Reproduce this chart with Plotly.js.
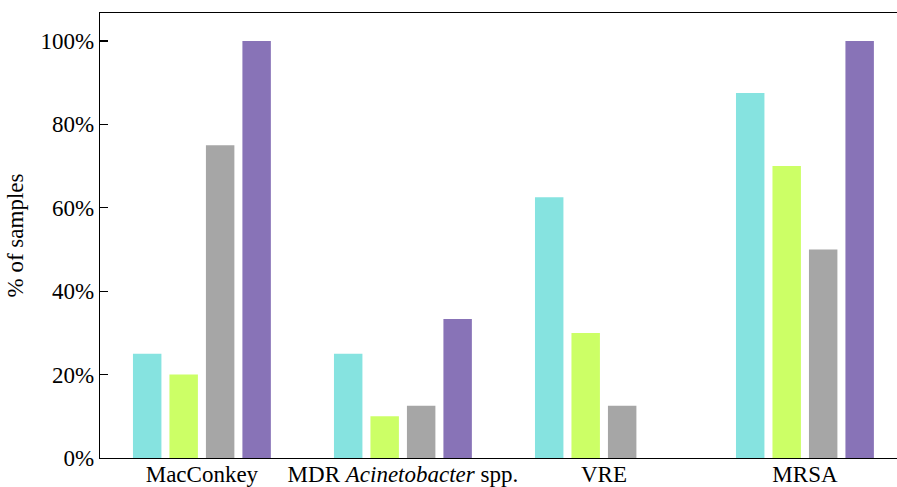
<!DOCTYPE html>
<html>
<head>
<meta charset="utf-8">
<script src="https://cdn.plot.ly/plotly-3.0.1.min.js"></script>
<style>html,body{margin:0;padding:0;background:#fff;}#chart{width:897px;height:487px;}</style>
</head>
<body>
<div id="chart"></div>
<script>
const categories = ["MacConkey", "MDR <i>Acinetobacter</i> spp.", "VRE", "MRSA"];
const seriesA = [25, 25, 62.5, 87.5];
const seriesB = [20, 10, 30, 70];
const seriesC = [75, 12.5, 12.5, 50];
const seriesD = [100, 33.3, 0, 100];
const colors = ["#86E3E0", "#CCFF66", "#A6A6A6", "#8873B7"];
const yTicks = [0, 20, 40, 60, 80, 100];
const yTickLabels = ["0%", "20%", "40%", "60%", "80%", "100%"];

const allSeries = [seriesA, seriesB, seriesC, seriesD];
const traces = allSeries.map((vals, i) => ({
  type: "bar",
  x: categories,
  y: vals,
  name: "Series " + (i + 1),
  marker: {color: colors[i], line: {width: 0}},
  showlegend: false,
  hoverinfo: "y"
}));

const FONT = "'Liberation Serif', 'Times New Roman', serif";
const layout = {
  width: 897, height: 487,
  margin: {l: 100, r: 0, t: 13, b: 29},
  paper_bgcolor: "#fff", plot_bgcolor: "#fff",
  font: {family: FONT, size: 23, color: "#000"},
  barmode: "group",
  bargap: 0.274,
  bargroupgap: 0.22,
  xaxis: {
    type: "category",
    range: [-0.507, 3.458],
    showline: true, linecolor: "#000", linewidth: 1.3,
    mirror: true,
    ticks: "", showgrid: false, zeroline: false,
    tickfont: {family: FONT, size: 23, color: "#000"},
    ticklabelstandoff: -5
  },
  yaxis: {
    range: [0, 106.7],
    showline: true, linecolor: "#000", linewidth: 1.3,
    ticks: "inside", ticklen: 8, tickwidth: 1.3, tickcolor: "#000",
    tickvals: yTicks, ticktext: yTickLabels,
    showgrid: false, zeroline: false,
    tickfont: {family: FONT, size: 23, color: "#000"},
    title: {text: "% of samples", font: {family: FONT, size: 23, color: "#000"}, standoff: 10}
  }
};

Plotly.newPlot("chart", traces, layout, {displayModeBar: false, staticPlot: true});
</script>
</body>
</html>
